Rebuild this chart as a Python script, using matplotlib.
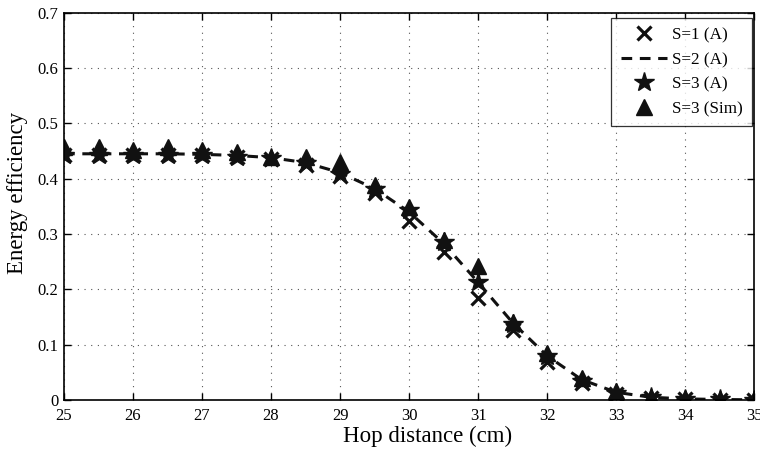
import matplotlib
matplotlib.use("Agg")
import matplotlib.pyplot as plt
import numpy as np

hop = [25, 25.5, 26, 26.5, 27, 27.5, 28, 28.5, 29, 29.5, 30, 30.5, 31, 31.5, 32, 32.5, 33, 33.5, 34, 34.5, 35]
s1_a = [0.443, 0.443, 0.443, 0.443, 0.442, 0.440, 0.435, 0.425, 0.405, 0.375, 0.323, 0.268, 0.184, 0.126, 0.069, 0.031, 0.010, 0.003, 0.001, 0.0005, 0.0002]
s2_a = [0.445, 0.445, 0.445, 0.445, 0.444, 0.442, 0.438, 0.429, 0.411, 0.382, 0.340, 0.283, 0.213, 0.140, 0.080, 0.037, 0.014, 0.005, 0.002, 0.001, 0.0003]
s3_a = [0.443, 0.443, 0.443, 0.443, 0.442, 0.440, 0.437, 0.428, 0.409, 0.382, 0.343, 0.286, 0.214, 0.138, 0.079, 0.035, 0.013, 0.005, 0.002, 0.001, 0.0003]
s3_sim = [0.458, 0.458, 0.451, 0.458, 0.451, 0.448, 0.440, 0.439, 0.430, 0.388, 0.348, 0.290, 0.242, 0.141, 0.085, 0.039, 0.017, 0.006, 0.003, 0.002, 0.001]

xticks = [25, 26, 27, 28, 29, 30, 31, 32, 33, 34, 35]
yticks = [0, 0.1, 0.2, 0.3, 0.4, 0.5, 0.6, 0.7]

plt.rcParams['font.family'] = ['Liberation Serif', 'DejaVu Serif']
plt.rcParams['mathtext.fontset'] = 'stix'

W, H = 760, 450
fig = plt.figure(figsize=(7.6, 4.5), dpi=100)
ax = fig.add_axes([64/W, 50/H, 690/W, 387.3/H])

ax.plot(hop, s1_a, linestyle='none', marker='x', color='#111111', markersize=9.5, markeredgewidth=2.3, label='S=1 (A)')
ax.plot(hop, s2_a, linestyle=(0, (3.5, 2.5)), color='#111111', linewidth=2.2, label='S=2 (A)')
ax.plot(hop, s3_a, linestyle='none', marker='*', color='#111111', markersize=15, label='S=3 (A)')
ax.plot(hop, s3_sim, linestyle='none', marker='^', color='#111111', markersize=12, label='S=3 (Sim)')

ax.set_xlim(25, 35)
ax.set_ylim(0, 0.7)
ax.set_xticks(xticks)
ax.set_yticks(yticks)
ax.set_xticklabels([str(v) for v in xticks])
ax.set_yticklabels(['0'] + ['%.1f' % v for v in yticks[1:]])
ax.tick_params(direction='in', length=5, width=1, labelsize=12, top=True, right=True)
ax.tick_params(axis='x', pad=5.5)
ax.tick_params(axis='y', pad=4)
ax.grid(True, linestyle=(0, (1, 5)), color='#555555', linewidth=0.8)
for s in ax.spines.values():
    s.set_linewidth(1.2)
    s.set_color('black')

ax.set_xlabel('Hop distance (cm)', fontsize=16.5)
ax.xaxis.label.set_verticalalignment('center')
ax.xaxis.set_label_coords(428/W, 1 - 436/H, transform=fig.transFigure)
ax.set_ylabel('Energy efficiency', fontsize=16.5)
ax.yaxis.label.set_verticalalignment('center')
ax.yaxis.set_label_coords(18/W, 1 - 193/H, transform=fig.transFigure)

leg = ax.legend(loc='upper right', bbox_to_anchor=((752 - 64)/690, 1 - (18 - 12.7)/387.3),
                fontsize=12.3, frameon=True, fancybox=False, edgecolor='black',
                borderaxespad=0.0, handlelength=2.7, handletextpad=0.3, labelspacing=0.5,
                borderpad=0.55)
leg.get_frame().set_linewidth(0.9)

fig.savefig('out.png', dpi=100)
